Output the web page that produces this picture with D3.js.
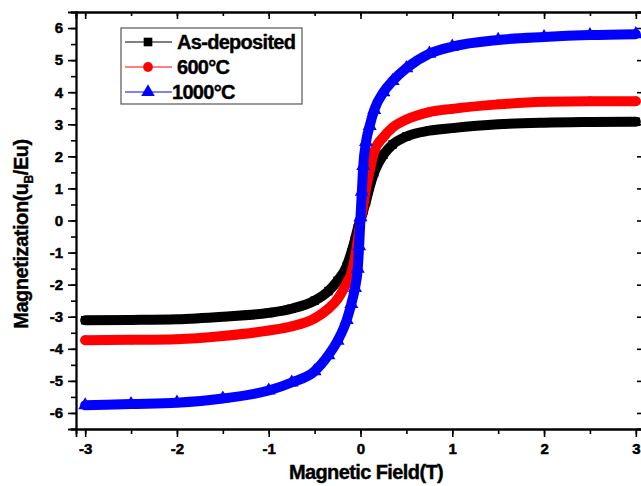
<!DOCTYPE html>
<html>
<head>
<meta charset="utf-8">
<script src="https://cdn.jsdelivr.net/npm/d3@7"></script>
<style>
  body { margin: 0; background: #fff; }
  text { font-family: Arial, "Liberation Sans", sans-serif; font-weight: bold; }
</style>
</head>
<body>
<div id="viz-container"></div>
<script>
let w = 641;
let h = 486;

// magnetic field (T)
let fields = [-3, -2.5, -2, -1.5, -1, -0.75, -0.5, -0.35, -0.25, -0.15, -0.1, -0.06, -0.03, -0.015,
  0, 0.015, 0.03, 0.06, 0.1, 0.15, 0.25, 0.35, 0.5, 0.75, 1, 1.5, 2, 2.5, 3];
// magnetization (uB/Eu)
let asDeposited = [-3.11, -3.10, -3.08, -3.00, -2.88, -2.75, -2.50, -2.20, -1.88, -1.42, -1.00, -0.60, -0.25, -0.10,
  0.05, 0.15, 0.30, 0.60, 1.05, 1.50, 2.05, 2.37, 2.62, 2.80, 2.88, 3.00, 3.05, 3.07, 3.08];
let t600 = [-3.73, -3.72, -3.70, -3.60, -3.43, -3.30, -3.05, -2.75, -2.45, -1.95, -1.65, -1.15, -0.60, -0.30,
  0.00, 0.22, 0.45, 1.00, 1.55, 2.15, 2.60, 2.90, 3.15, 3.38, 3.48, 3.62, 3.70, 3.72, 3.72];
let t1000 = [-5.76, -5.72, -5.68, -5.55, -5.30, -5.05, -4.70, -4.20, -3.75, -3.10, -2.60, -2.10, -1.50, -0.80,
  0.10, 0.90, 1.70, 2.45, 2.95, 3.45, 4.00, 4.35, 4.75, 5.20, 5.42, 5.63, 5.72, 5.78, 5.81];

let seriesNames = ["As-deposited", "600°C", "1000°C"];
let seriesColors = ["#000000", "#ff0000", "#0000ff"];
let seriesShapes = [d3.symbolSquare, d3.symbolCircle, d3.symbolTriangle];
let seriesValues = [asDeposited, t600, t1000];

let xTicks = [-3, -2, -1, 0, 1, 2, 3];
let yTicks = [-6, -5, -4, -3, -2, -1, 0, 1, 2, 3, 4, 5, 6];

let pLeft = 76, pRight = 645, pTop = 12, pBottom = 429;

let viz = d3.select("#viz-container")
  .append("svg")
  .attr("width", w)
  .attr("height", h);

let xScale = d3.scaleLinear().domain([-3.1, 3.1]).range([pLeft, pRight]);
let yScale = d3.scaleLinear().domain([-6.5, 6.5]).range([pBottom, pTop]);

let xMinor = d3.range(-3, 3.01, 0.5);
let yMinor = d3.range(-6.5, 6.51, 0.5);

function styleAxis(g) {
  g.select(".domain").attr("stroke", "#000").attr("stroke-width", 1.8);
  g.selectAll(".tick line").attr("stroke", "#000").attr("stroke-width", 1.6);
  g.selectAll(".tick text").attr("font-size", "15px").attr("fill", "#000")
    .attr("stroke", "#000").attr("stroke-width", 0.5)
    .style("font-family", "Arial, 'Liberation Sans', sans-serif").style("font-weight", "bold");
}

// minor ticks first
viz.append("g").attr("transform", "translate(0," + pBottom + ")")
  .call(d3.axisBottom(xScale).tickValues(xMinor).tickSize(5).tickFormat(""))
  .call(styleAxis);
viz.append("g").attr("transform", "translate(0," + pTop + ")")
  .call(d3.axisBottom(xScale).tickValues(xMinor).tickSize(4).tickFormat(""))
  .call(styleAxis);
viz.append("g").attr("transform", "translate(" + pLeft + ",0)")
  .call(d3.axisLeft(yScale).tickValues(yMinor).tickSize(5).tickFormat(""))
  .call(styleAxis);
viz.append("g").attr("transform", "translate(" + pRight + ",0)")
  .call(d3.axisLeft(yScale).tickValues(yMinor).tickSize(4).tickFormat(""))
  .call(styleAxis);

// major ticks
let xAxisGroup = viz.append("g")
  .attr("transform", "translate(0," + pBottom + ")")
  .call(d3.axisBottom(xScale).tickValues(xTicks).tickSize(8).tickPadding(6).tickFormat(d3.format("d")))
  .call(styleAxis);
xAxisGroup.selectAll(".tick text").text(d => d < 0 ? "-" + Math.abs(d) : d);

viz.append("g").attr("transform", "translate(0," + pTop + ")")
  .call(d3.axisBottom(xScale).tickValues(xTicks).tickSize(7).tickFormat(""))
  .call(styleAxis);

let yAxisGroup = viz.append("g")
  .attr("transform", "translate(" + pLeft + ",0)")
  .call(d3.axisLeft(yScale).tickValues(yTicks).tickSize(8).tickPadding(5))
  .call(styleAxis);
yAxisGroup.selectAll(".tick text").text(d => d < 0 ? "-" + Math.abs(d) : d);

viz.append("g").attr("transform", "translate(" + pRight + ",0)")
  .call(d3.axisLeft(yScale).tickValues(yTicks).tickSize(8).tickFormat(""))
  .call(styleAxis);

// axis titles
viz.append("text")
  .attr("x", 366).attr("y", 479)
  .attr("text-anchor", "middle")
  .attr("font-size", "20px")
  .attr("letter-spacing", "-0.6")
  .attr("stroke", "#000").attr("stroke-width", 0.4)
  .text("Magnetic Field(T)");

let yLabel = viz.append("text")
  .attr("transform", "translate(28,234) rotate(-90)")
  .attr("text-anchor", "middle")
  .attr("font-size", "20px")
  .attr("letter-spacing", "-0.45")
  .attr("stroke", "#000").attr("stroke-width", 0.4);
yLabel.append("tspan").text("Magnetization(u");
yLabel.append("tspan").attr("font-size", "12px").attr("dy", 5).text("B");
yLabel.append("tspan").attr("dy", -5).text("/Eu)");

// data
let line = d3.line()
  .x((d, i) => xScale(fields[i]))
  .y(d => yScale(d))
  .curve(d3.curveMonotoneX);

viz.append("clipPath").attr("id", "plotclip")
  .append("rect").attr("x", pLeft).attr("y", pTop).attr("width", pRight - pLeft).attr("height", pBottom - pTop);

let plot = viz.append("g").attr("clip-path", "url(#plotclip)");

seriesValues.forEach(function (vals, k) {
  let g = plot.append("g").attr("class", "series");
  g.append("path")
    .datum(vals)
    .attr("d", line)
    .attr("fill", "none")
    .attr("stroke", seriesColors[k])
    .attr("stroke-width", 10)
    .attr("stroke-linejoin", "round")
    .attr("stroke-linecap", "round");
  g.selectAll("path.pt").data(vals).enter()
    .append("path")
    .attr("class", "pt")
    .attr("transform", (d, i) => "translate(" + xScale(fields[i]) + "," + yScale(d) + ")")
    .attr("d", d3.symbol().type(seriesShapes[k]).size(k == 2 ? 85 : 72))
    .attr("fill", seriesColors[k]);
});

// legend
let legend = viz.append("g");
legend.append("rect")
  .attr("x", 121).attr("y", 28).attr("width", 181).attr("height", 76)
  .attr("fill", "#fff").attr("stroke", "#555").attr("stroke-width", 1.2);

seriesNames.forEach(function (name, k) {
  let y = 42 + k * 25;
  legend.append("line")
    .attr("x1", 125).attr("x2", 172).attr("y1", y).attr("y2", y)
    .attr("stroke", seriesColors[k]).attr("stroke-width", 1);
  legend.append("path")
    .attr("transform", "translate(148," + y + ")")
    .attr("d", d3.symbol().type(seriesShapes[k]).size(k == 2 ? 80 : 75))
    .attr("fill", seriesColors[k]);
  legend.append("text")
    .attr("x", k == 2 ? 172 : 177).attr("y", y + 7)
    .attr("font-size", "20px")
    .attr("letter-spacing", "-0.7")
    .attr("stroke", "#000").attr("stroke-width", 0.4)
    .text(name);
});
</script>
</body>
</html>
